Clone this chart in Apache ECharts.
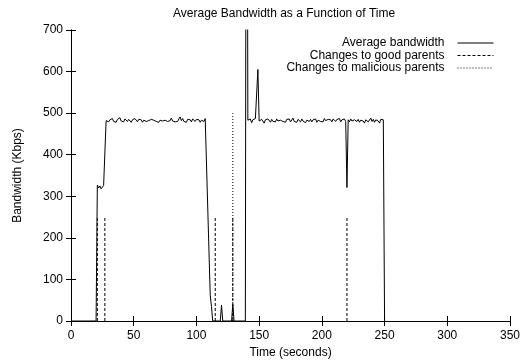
<!DOCTYPE html>
<html>
<head>
<meta charset="utf-8">
<script src="https://cdn.jsdelivr.net/npm/echarts@6/dist/echarts.min.js"></script>
<style>
html,body{margin:0;padding:0;background:#fff;}
#chart{width:526px;height:364px;}
</style>
</head>
<body>
<div id="chart"></div>
<script>
// ---- data ----
const titleText = 'Average Bandwidth as a Function of Time';
const xTitle = 'Time (seconds)';
const yTitle = 'Bandwidth (Kbps)';
const xTicks = [0, 50, 100, 150, 200, 250, 300, 350];
const yTicks = [0, 100, 200, 300, 400, 500, 600, 700];

// Average bandwidth: time (s) and value (Kbps)
const bwTime = [
  0, 20, 21, 22, 23, 24, 25, 26, 27,
  28, 29, 30, 31, 32, 33, 34, 35, 36, 37, 38, 39, 40, 41, 42, 43, 44, 45, 46, 47,
  48, 49, 50, 51, 52, 53, 54, 55, 56, 57, 58, 59, 60, 61, 62, 63, 64, 65, 66, 67,
  68, 69, 70, 71, 72, 73, 74, 75, 76, 77, 78, 79, 80, 81, 82, 83, 84, 85, 86, 87,
  88, 89, 90, 91, 92, 93, 94, 95, 96, 97, 98, 99, 100, 101, 102, 103, 104, 105, 106, 107,
  108, 111, 112, 113, 119, 120, 121, 128, 129, 130, 139, 140,
  141, 142, 143, 144, 145, 146, 147, 148, 149, 150, 151, 152, 153, 154, 155, 156, 157, 158, 159, 160,
  161, 162, 163, 164, 165, 166, 167, 168, 169, 170, 171, 172, 173, 174, 175, 176, 177, 178, 179, 180,
  181, 182, 183, 184, 185, 186, 187, 188, 189, 190, 191, 192, 193, 194, 195, 196, 197, 198, 199, 200,
  201, 202, 203, 204, 205, 206, 207, 208, 209, 210, 211, 212, 213, 214, 215, 216, 217, 218, 219, 220,
  221, 222, 223, 224, 225, 226, 227, 228, 229, 230, 231, 232, 233, 234, 235, 236, 237, 238, 239, 240,
  241, 242, 243, 244, 245, 246, 247, 248, 249, 250
];
const bwValue = [
  0, 0, 327, 320, 325, 318, 322, 326, 330,
  482, 486, 479, 484, 481, 487, 480, 483, 478, 485, 482, 489, 481, 484, 479, 486, 483, 480, 485, 482,
  478, 484, 481, 487, 483, 479, 485, 481, 484, 478, 483, 486, 480, 484, 482, 479, 485, 481, 483, 487,
  480, 484, 478, 483, 485, 481, 477, 483, 486, 480, 484, 482, 488, 481, 485, 479, 483, 480, 486, 491,
  482, 487, 480, 484, 478, 485, 481, 484, 479, 486, 482, 480, 485, 481, 484, 478, 483, 486, 480, 487,
  483, 62, 35, 0, 0, 38, 0, 0, 40, 0, 0, 2000,
  483, 480, 486, 477, 484, 482, 487, 483, 605, 481, 477, 485, 481, 476, 484, 480, 486, 482, 478, 485,
  480, 484, 479, 486, 481, 477, 483, 487, 480, 484, 478, 485, 481, 486, 479, 483, 488, 480, 484, 478,
  485, 482, 479, 486, 481, 484, 477, 483, 487, 480, 485, 479, 484, 481, 486, 478, 483, 485, 480, 484,
  479, 487, 482, 478, 485, 481, 484, 479, 486, 482, 480, 485, 481, 487, 479, 484, 481, 486, 480, 321,
  484, 479, 486, 481, 477, 484, 488, 480, 485, 478, 483, 487, 481, 476, 484, 486, 479, 483, 488, 480,
  485, 478, 484, 487, 481, 476, 485, 482, 484, 0
];

// Parent changes: time of change and marker height
const goodChangeTimes = [21, 27, 115, 129, 220];
const goodChangeHeight = 250;
const maliciousChangeTimes = [129];
const maliciousChangeHeight = 500;

// ---- build chart ----
const FONT = 'Liberation Sans, Arial, Helvetica, sans-serif';
const black = '#000';

const series = [];
series.push({
  name: 'Average bandwidth',
  type: 'line',
  data: bwTime.map((t, i) => [t, bwValue[i]]),
  symbol: 'none',
  lineStyle: {color: black, width: 1},
  itemStyle: {color: black},
  clip: true,
  animation: false,
  z: 3
});
goodChangeTimes.forEach(t => {
  series.push({
    name: 'Changes to good parents',
    type: 'line',
    data: [[t, 0], [t, goodChangeHeight]],
    symbol: 'none',
    lineStyle: {color: black, width: 1, type: [3, 2]},
    itemStyle: {color: black},
    animation: false,
    z: 2
  });
});
maliciousChangeTimes.forEach(t => {
  series.push({
    name: 'Changes to malicious parents',
    type: 'line',
    data: [[t, 0], [t, maliciousChangeHeight]],
    symbol: 'none',
    lineStyle: {color: black, width: 1, type: [1, 2]},
    itemStyle: {color: black},
    animation: false,
    z: 2
  });
});

const axisCommon = {
  axisLine: {show: true, lineStyle: {color: black, width: 1}},
  axisTick: {show: true, inside: true, length: 5, lineStyle: {color: black, width: 1}},
  splitLine: {show: false}
};

const chart = echarts.init(document.getElementById('chart'), null, {renderer: 'canvas'});
chart.setOption({
  animation: false,
  backgroundColor: '#fff',
  textStyle: {fontFamily: FONT},
  title: {
    text: titleText,
    left: 168,
    top: 3,
    textStyle: {fontSize: 12, fontWeight: 'normal', color: black, fontFamily: FONT}
  },
  legend: {
    orient: 'vertical',
    right: 27,
    top: 32,
    align: 'right',
    itemWidth: 36,
    itemHeight: 10,
    itemGap: 0.5,
    selectedMode: false,
    itemStyle: {opacity: 0},
    lineStyle: {width: 1},
    data: ['Average bandwidth', 'Changes to good parents', 'Changes to malicious parents'],
    textStyle: {fontSize: 12, color: black, fontFamily: FONT, padding: [0, 8, 0, 0]}
  },
  grid: {left: 71, right: 16, top: 30, bottom: 42, containLabel: false},
  xAxis: [
    Object.assign({
      type: 'value', min: xTicks[0], max: xTicks[xTicks.length - 1], interval: 50,
      position: 'bottom',
      name: xTitle, nameLocation: 'middle', nameGap: 26,
      nameTextStyle: {fontSize: 12, color: black, fontFamily: FONT},
      axisLabel: {show: true, margin: 9, fontSize: 12, color: black, fontFamily: FONT}
    }, axisCommon),
    Object.assign({
      type: 'value', min: xTicks[0], max: xTicks[xTicks.length - 1], interval: 50,
      position: 'top',
      axisLabel: {show: false}
    }, axisCommon)
  ],
  yAxis: [
    Object.assign({
      type: 'value', min: yTicks[0], max: yTicks[yTicks.length - 1], interval: 100,
      position: 'left',
      name: yTitle, nameLocation: 'middle', nameGap: 47, nameRotate: 90,
      nameTextStyle: {fontSize: 12, color: black, fontFamily: FONT},
      axisLabel: {show: true, margin: 8, fontSize: 12, color: black, fontFamily: FONT}
    }, axisCommon),
    Object.assign({
      type: 'value', min: yTicks[0], max: yTicks[yTicks.length - 1], interval: 100,
      position: 'right',
      axisLabel: {show: false}
    }, axisCommon)
  ],
  series: series
});
</script>
</body>
</html>
